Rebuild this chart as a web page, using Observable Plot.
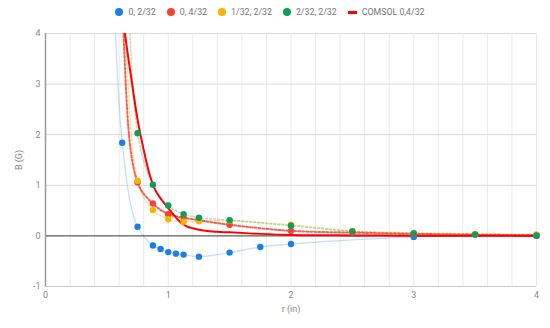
<!DOCTYPE html>
<html>
<head>
<meta charset="utf-8">
<script src="https://cdn.jsdelivr.net/npm/d3@7"></script>
<script src="https://cdn.jsdelivr.net/npm/@observablehq/plot@0.6"></script>
<style>
  html, body { margin: 0; padding: 0; background: #fff; }
  #wrap { position: relative; width: 550px; height: 328px; font-family: Roboto, sans-serif; }
  #chart { position: absolute; top: 0; left: 0; }
  #legend { position: absolute; top: 6px; left: 0; width: 540px; height: 12px; display: flex; justify-content: center; align-items: center; font-size: 8.8px; color: #777; z-index: 2; }
  .item { display: flex; align-items: center; margin: 0 5.5px; white-space: nowrap; }
  .sw { display: inline-block; width: 8px; height: 8px; border-radius: 50%; margin-right: 5px; }
  .dash { display: inline-block; width: 9px; height: 3px; margin-right: 5px; background: #ff0000; }
</style>
</head>
<body>
<div id="wrap"><div id="chart"></div><div id="legend"></div></div>
<script>
// Measured series (points above the visible window are estimated continuations, clipped)
const seriesNames = ["0, 2/32", "0, 4/32", "1/32, 2/32", "2/32, 2/32"];
const seriesColors = ["#1a7fea", "#f44336", "#fbb300", "#0f9d58"];

const blueX = [0.5, 0.625, 0.75, 0.875, 0.9375, 1, 1.0625, 1.125, 1.25, 1.5, 1.75, 2, 3, 4];
const blueY = [10, 1.84, 0.18, -0.19, -0.26, -0.32, -0.35, -0.37, -0.41, -0.33, -0.22, -0.16, -0.02, 0];

const redX = [0.5, 0.625, 0.75, 0.875, 1, 1.125, 1.25, 1.5, 2, 2.5, 3, 3.5, 4];
const redY = [20, 4.5, 1.06, 0.64, 0.43, 0.36, 0.31, 0.22, 0.1, 0.065, 0.04, 0.025, 0.015];

const orangeX = [0.625, 0.75, 0.875, 1, 1.125, 1.25, 1.5, 2, 2.5, 3, 3.5, 4];
const orangeY = [8, 1.09, 0.51, 0.33, 0.28, 0.29, 0.3, 0.22, 0.1, 0.06, 0.04, 0.03];

const greenX = [0.625, 0.75, 0.875, 1, 1.125, 1.25, 1.5, 2, 2.5, 3, 3.5, 4];
const greenY = [10, 2.03, 1.01, 0.6, 0.43, 0.36, 0.31, 0.2, 0.09, 0.05, 0.03, 0.01];

const comsolName = "COMSOL 0,4/32";
const comsolX = [0.6, 0.65, 0.7, 0.75, 0.8, 0.85, 0.9, 0.95, 1.0, 1.05, 1.1, 1.15, 1.2, 1.3, 1.4, 1.5, 1.75, 2, 2.5, 3, 3.5, 4];
const comsolY = [5.0, 3.95, 3.1, 2.3, 1.7, 1.2, 0.88, 0.7, 0.55, 0.4, 0.27, 0.19, 0.15, 0.1, 0.08, 0.07, 0.04, 0.02, 0.01, 0.005, 0.002, 0];

const xTicks = [0, 1, 2, 3, 4];
const yTicks = [-1, 0, 1, 2, 3, 4];
const xMinor = d3.range(0, 21).map(i => i / 5);

const toRows = (xs, ys) => xs.map((x, i) => ({x, y: ys[i]}));
const blue = toRows(blueX, blueY), red = toRows(redX, redY),
      orange = toRows(orangeX, orangeY), green = toRows(greenX, greenY),
      comsol = toRows(comsolX, comsolY);
const vis = rows => rows.filter(d => d.y <= 4 && d.y >= -1);

// Legend
const legend = document.getElementById("legend");
seriesNames.forEach((n, i) => {
  const it = document.createElement("div"); it.className = "item";
  it.innerHTML = `<span class="sw" style="background:${seriesColors[i]}"></span>${n}`;
  legend.appendChild(it);
});
{
  const it = document.createElement("div"); it.className = "item";
  it.innerHTML = `<span class="dash"></span>${comsolName}`;
  legend.appendChild(it);
}

const fmt = d => String(d);
const chart = Plot.plot({
  width: 550,
  height: 328,
  marginLeft: 45,
  marginRight: 14,
  marginTop: 33,
  marginBottom: 42,
  style: {fontFamily: "Roboto, sans-serif", fontSize: "9px", color: "#888", background: "#fff"},
  x: {domain: [0, 4]},
  y: {domain: [-1, 4]},
  marks: [
    Plot.ruleX(xMinor, {stroke: "#ebebeb", strokeWidth: 1}),
    Plot.ruleY([1, 2, 3, 4], {stroke: "#dcdcdc", strokeWidth: 1}),
    Plot.ruleY([-1], {stroke: "#cccccc", strokeWidth: 1}),
    Plot.axisX({ticks: xTicks, tickFormat: fmt, tickSize: 0, tickPadding: 5, fill: "#888", label: "r (in)", labelAnchor: "center", labelArrow: "none", labelOffset: 25, fontSize: 9}),
    Plot.axisY({ticks: yTicks, tickFormat: fmt, tickSize: 0, tickPadding: 5, fill: "#888", label: "B (G)", labelAnchor: "center", labelArrow: "none", labelOffset: 30, fontSize: 9}),
    Plot.line(blue, {x: "x", y: "y", curve: "catmull-rom", stroke: seriesColors[0], strokeOpacity: 0.25, strokeWidth: 1.3, clip: true}),
    Plot.line(orange, {x: "x", y: "y", curve: "catmull-rom", stroke: seriesColors[2], strokeOpacity: 0.4, strokeWidth: 1.5, strokeDasharray: "2,2", clip: true}),
    Plot.line(green, {x: "x", y: "y", curve: "catmull-rom", stroke: "#34a853", strokeOpacity: 0.35, strokeWidth: 1.5, strokeDasharray: "2,2", clip: true}),
    Plot.line(red, {x: "x", y: "y", curve: "catmull-rom", stroke: seriesColors[1], strokeOpacity: 0.85, strokeWidth: 2, strokeDasharray: "2,2", clip: true}),
    Plot.ruleY([0], {stroke: "#333", strokeWidth: 1}),
    Plot.ruleX([0], {stroke: "#999", strokeWidth: 1.5}),
    Plot.line(comsol, {x: "x", y: "y", curve: "catmull-rom", stroke: "#ff0000", strokeWidth: 2, clip: true}),
    Plot.dot(vis(blue), {x: "x", y: "y", r: 3.2, fill: seriesColors[0]}),
    Plot.dot(vis(red), {x: "x", y: "y", r: 3.2, fill: seriesColors[1]}),
    Plot.dot(vis(orange), {x: "x", y: "y", r: 3.2, fill: seriesColors[2]}),
    Plot.dot(vis(green), {x: "x", y: "y", r: 3.2, fill: seriesColors[3]})
  ]
});
document.getElementById("chart").appendChild(chart);
</script>
</body>
</html>
